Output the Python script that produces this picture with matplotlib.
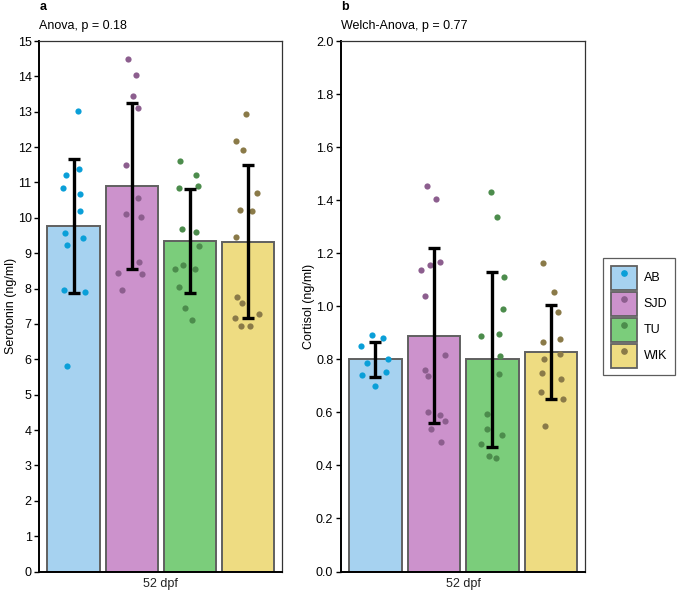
import matplotlib
matplotlib.use("Agg")
import matplotlib.pyplot as plt
import numpy as np
from matplotlib.patches import Patch
from matplotlib.lines import Line2D

plt.rcParams['font.family'] = ['Liberation Sans', 'DejaVu Sans']

groups = ["AB", "SJD", "TU", "WIK"]
bar_colors = ["#A6D2F0", "#CC92CC", "#7BCD7B", "#EEDC82"]
pt_colors = ["#0A9FD8", "#8C5E8E", "#4C8C4C", "#8A7A48"]

# Serotonin (panel a)
sero_mean = [9.77, 10.90, 9.35, 9.33]
sero_sd = [1.90, 2.36, 1.47, 2.17]
sero_pts = [
    [13.02, 11.21, 11.37, 10.84, 10.66, 10.20, 9.57, 9.42, 9.23, 7.97, 7.89, 5.81],
    [14.49, 14.03, 13.45, 13.11, 11.49, 10.55, 10.10, 10.03, 8.75, 8.43, 8.41, 7.97],
    [11.62, 11.22, 10.91, 10.85, 9.69, 9.60, 9.19, 8.68, 8.55, 8.54, 8.04, 7.44, 7.11],
    [12.93, 12.16, 11.92, 10.69, 10.22, 10.20, 9.45, 7.75, 7.60, 7.27, 7.18, 6.94, 6.94],
]
sero_jit = [
    [0.077, -0.129, 0.095, -0.175, 0.117, 0.107, -0.141, 0.158, -0.112, -0.158, 0.198, -0.107],
    [-0.064, 0.081, 0.029, 0.115, -0.103, 0.115, -0.103, 0.155, 0.120, -0.235, 0.184, -0.172],
    [-0.165, 0.110, 0.144, -0.182, -0.143, 0.098, 0.162, -0.125, 0.093, -0.263, -0.182, -0.079, 0.029],
    [-0.043, -0.198, -0.084, 0.163, -0.146, 0.070, -0.198, -0.192, -0.107, 0.186, -0.222, -0.112, 0.036],
]

# Cortisol (panel b)
cort_mean = [0.800, 0.889, 0.800, 0.826]
cort_sd = [0.066, 0.331, 0.330, 0.177]
cort_pts = [
    [0.893, 0.882, 0.850, 0.803, 0.786, 0.752, 0.740, 0.698],
    [1.453, 1.405, 1.167, 1.154, 1.138, 1.039, 0.818, 0.761, 0.736, 0.601, 0.589, 0.567, 0.537, 0.489],
    [1.431, 1.337, 1.111, 0.989, 0.894, 0.887, 0.811, 0.745, 0.594, 0.538, 0.516, 0.479, 0.437, 0.429],
    [1.162, 1.052, 0.980, 0.877, 0.864, 0.819, 0.801, 0.747, 0.726, 0.675, 0.649, 0.550],
]
cort_jit = [
    [-0.055, 0.129, -0.245, 0.216, -0.152, 0.181, -0.233, -0.009],
    [-0.124, 0.038, 0.112, -0.072, -0.216, -0.152, 0.186, -0.159, -0.100, -0.100, 0.107, 0.193, -0.048, 0.124],
    [-0.021, 0.072, 0.198, 0.176, 0.112, -0.193, 0.134, 0.107, -0.090, -0.090, 0.159, -0.203, -0.066, 0.055],
    [-0.129, 0.055, 0.129, 0.152, -0.134, 0.159, -0.117, -0.147, 0.169, -0.164, 0.203, -0.095],
]

xlabel = "52 dpf"

fig = plt.figure(figsize=(6.85, 5.93), dpi=100)
W, H = 685, 593
ax1 = fig.add_axes([39.3 / W, 1 - 571.5 / H, (282.3 - 39.3) / W, (571.5 - 41) / H])
ax2 = fig.add_axes([341 / W, 1 - 571.5 / H, (585.3 - 341) / W, (571.5 - 41) / H])


def draw(ax, means, sds, pts, jit, ylim, yticks, fmt, ylabel, ylabel_x, letter, title):
    x = np.arange(len(groups))
    ax.bar(x, means, width=0.9, color=bar_colors, edgecolor="#606060", linewidth=1.4, zorder=2)
    for i in range(len(groups)):
        ax.scatter(x[i] + np.array(jit[i]), pts[i], s=20, color=pt_colors[i], zorder=3, linewidths=0)
    ax.errorbar(x, means, yerr=sds, fmt="none", ecolor="black", elinewidth=2.4,
                capsize=4.0, capthick=2.4, zorder=4)
    ax.set_xlim(-0.59, 3.59)
    ax.set_ylim(*ylim)
    ax.set_yticks(yticks)
    ax.set_yticklabels([fmt.format(v) for v in yticks])
    ax.set_xticks([1.5])
    ax.set_xticklabels([xlabel])
    ax.tick_params(axis="x", length=0, pad=5, labelsize=9, colors="#222222")
    ax.tick_params(axis="y", length=3.5, width=1.0, labelsize=9, colors="black", pad=2)
    for s in ["left", "bottom"]:
        ax.spines[s].set_linewidth(1.4)
        ax.spines[s].set_color("black")
    for s in ["top", "right"]:
        ax.spines[s].set_linewidth(0.9)
        ax.spines[s].set_color("#333333")
    ax.set_ylabel(ylabel, fontsize=9)
    ax.yaxis.set_label_coords(ylabel_x, 0.5)
    ax.text(0, 1.0 + 34 / 530, letter, transform=ax.transAxes, fontsize=9,
            fontweight="bold", ha="left", va="center")
    ax.text(0, 1.0 + 15 / 530, title, transform=ax.transAxes, fontsize=9,
            ha="left", va="center")


draw(ax1, sero_mean, sero_sd, sero_pts, sero_jit, (0, 15), list(range(0, 16)), "{:d}",
     "Serotonin (ng/ml)", (17 - 39.3) / 243, "a", "Anova, p = 0.18")
draw(ax2, cort_mean, cort_sd, cort_pts, cort_jit, (0, 2.0),
     [round(0.2 * k, 1) for k in range(11)], "{:.1f}",
     "Cortisol (ng/ml)", (315 - 341) / 244.3, "b", "Welch-Anova, p = 0.77")

handles = []
for i in range(len(groups)):
    p = Patch(facecolor=bar_colors[i], edgecolor="#606060", linewidth=1.3)
    m = Line2D([], [], marker="o", linestyle="none", color=pt_colors[i], markersize=3.8)
    handles.append((p, m))
leg = fig.legend(handles, groups, loc="upper left", bbox_to_anchor=(603 / W, 1 - 258 / H),
                 fontsize=9, frameon=True, fancybox=False, edgecolor="#333333",
                 handlelength=2.1, handleheight=2.58, labelspacing=0.16,
                 handletextpad=0.55, borderpad=0.6, borderaxespad=0)
leg.get_frame().set_linewidth(0.9)

fig.savefig("out.png", dpi=100)
